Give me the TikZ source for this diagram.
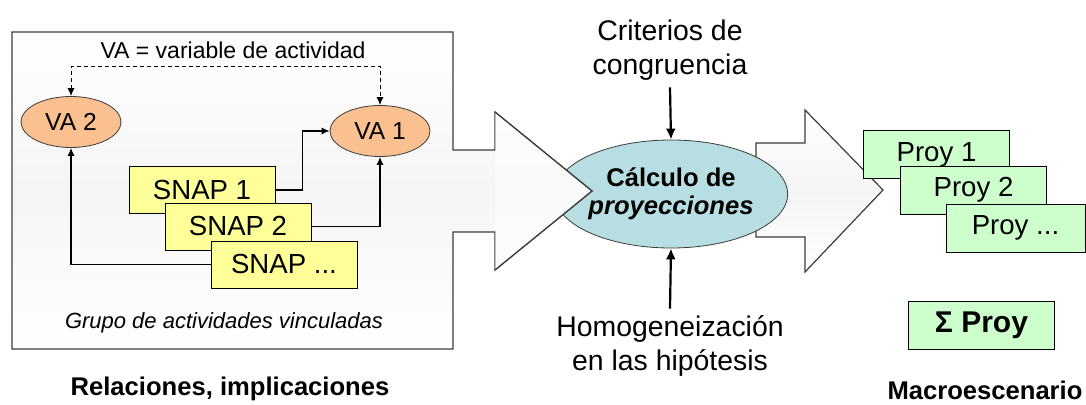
\documentclass[tikz,border=0pt]{standalone}
\usepackage{fontspec}
\setmainfont{Liberation Sans}
\usetikzlibrary{shapes.geometric,arrows.meta}
\definecolor{snapyellow}{RGB}{255,255,153}
\definecolor{proygreen}{RGB}{204,255,204}
\definecolor{vaorange}{RGB}{250,192,144}
\definecolor{calcblue}{RGB}{183,222,226}
\definecolor{edgegray}{RGB}{60,60,60}

\tikzset{
  snapbox/.style={draw=black, fill=snapyellow, minimum width=73pt, minimum height=23.5pt,
    inner sep=0pt, font=\fontsize{13.8}{16}\selectfont},
  proybox/.style={draw=black, fill=proygreen, minimum width=73pt, minimum height=24pt,
    inner sep=0pt, font=\fontsize{13.8}{16}\selectfont},
  vanode/.style={ellipse, draw=edgegray, fill=vaorange, minimum width=50pt, minimum height=25.5pt,
    inner sep=0pt, font=\fontsize{12.3}{14}\selectfont},
  link/.style={draw=black, line width=0.6pt, -{Latex[length=4pt,width=3.5pt]}},
  thicklink/.style={draw=black, line width=1.1pt, -{Latex[length=5.5pt,width=5pt]}},
  dashlink/.style={draw=black, line width=0.5pt, dashed, dash pattern=on 2pt off 1.5pt,
    {Latex[length=4pt,width=3.5pt]}-{Latex[length=4pt,width=3.5pt]}},
  bigshape/.style={draw=edgegray, line width=0.6pt, top color=white, bottom color=white, middle color=gray!8},
  sidetext/.style={align=center, font=\fontsize{14.2}{17}\selectfont},
  boldtext/.style={font=\bfseries\fontsize{12.8}{15}\selectfont}
}

\begin{document}
\begin{tikzpicture}[x=0.5pt, y=-0.5pt]

% Frame
\useasboundingbox (0,0) rectangle (1086,405);
\fill[white] (0,0) rectangle (1086,405);

% Right arrow (behind the ellipse)
\draw[bigshape] (805,143) -- (805,110) -- (883,190) -- (805,272) -- (805,237) -- (756,237) -- (756,143) -- cycle;

% Central ellipse
\node[ellipse, draw=edgegray, fill=calcblue, minimum width=101.5pt, minimum height=54pt, inner sep=0pt,
  align=center, font=\bfseries\fontsize{12.8}{13.8}\selectfont] (calc) at (671,194)
  {C\'alculo de\\\textit{proyecciones}};

% Left box merged with its arrow
\draw[bigshape] (12,32) -- (453,32) -- (453,150) -- (495,150) -- (495,112) -- (592,191) -- (495,270)
  -- (495,232) -- (453,232) -- (453,349) -- (12,349) -- cycle;
\draw[draw=edgegray, line width=0.6pt, fill=white, fill opacity=0.5] (495,112) -- (592,191) -- (495,270);

% Activity variables
\node[vanode] (va2) at (71,122) {VA 2};
\node[vanode] (va1) at (380,131) {VA 1};
\node[font=\fontsize{11.5}{13}\selectfont] (vacap) at (233,50) {VA = variable de actividad};
\draw[dashlink] (va2.north) -- ++(0,-30) -| (va1.north);

% SNAP boxes
\node[snapbox] (snap1) at (202,190) {SNAP 1};
\node[snapbox] (snap2) at (238,226.5) {SNAP 2};
\node[snapbox] (snap3) at (284,264.5) {SNAP ...};

\draw[link] (snap1.east) -- ++(27,0) |- (va1.west);
\draw[link] (snap2.east) -| (va1.south);
\draw[link] (snap3.west) -| (va2.south);

\node[font=\itshape\fontsize{11}{13}\selectfont] (grupo) at (224,323) {Grupo de actividades vinculadas};

% Inputs of the calculation
\node[sidetext] (crit) at (670,50) {Criterios de\\congruencia};
\node[sidetext] (homog) at (670,346) {Homogeneizaci\'on\\en las hip\'otesis};
\draw[thicklink] (crit.south) -- (calc.north);
\draw[thicklink] (homog.north) -- (calc.south);

% Projections
\node[proybox] (proy1) at (936.5,154.5) {Proy 1};
\node[proybox] (proy2) at (973.5,190) {Proy 2};
\node[proybox, minimum width=69.5pt] (proy3) at (1015.5,228) {Proy ...};
\node[proybox, font=\bfseries\fontsize{15}{17}\selectfont] (suma) at (981.5,325.5) {Σ Proy};

% Bottom captions
\node[boldtext] (rel) at (230,389) {Relaciones, implicaciones};
\node[boldtext] (macro) at (985,390) {Macroescenario};

\end{tikzpicture}
\end{document}
